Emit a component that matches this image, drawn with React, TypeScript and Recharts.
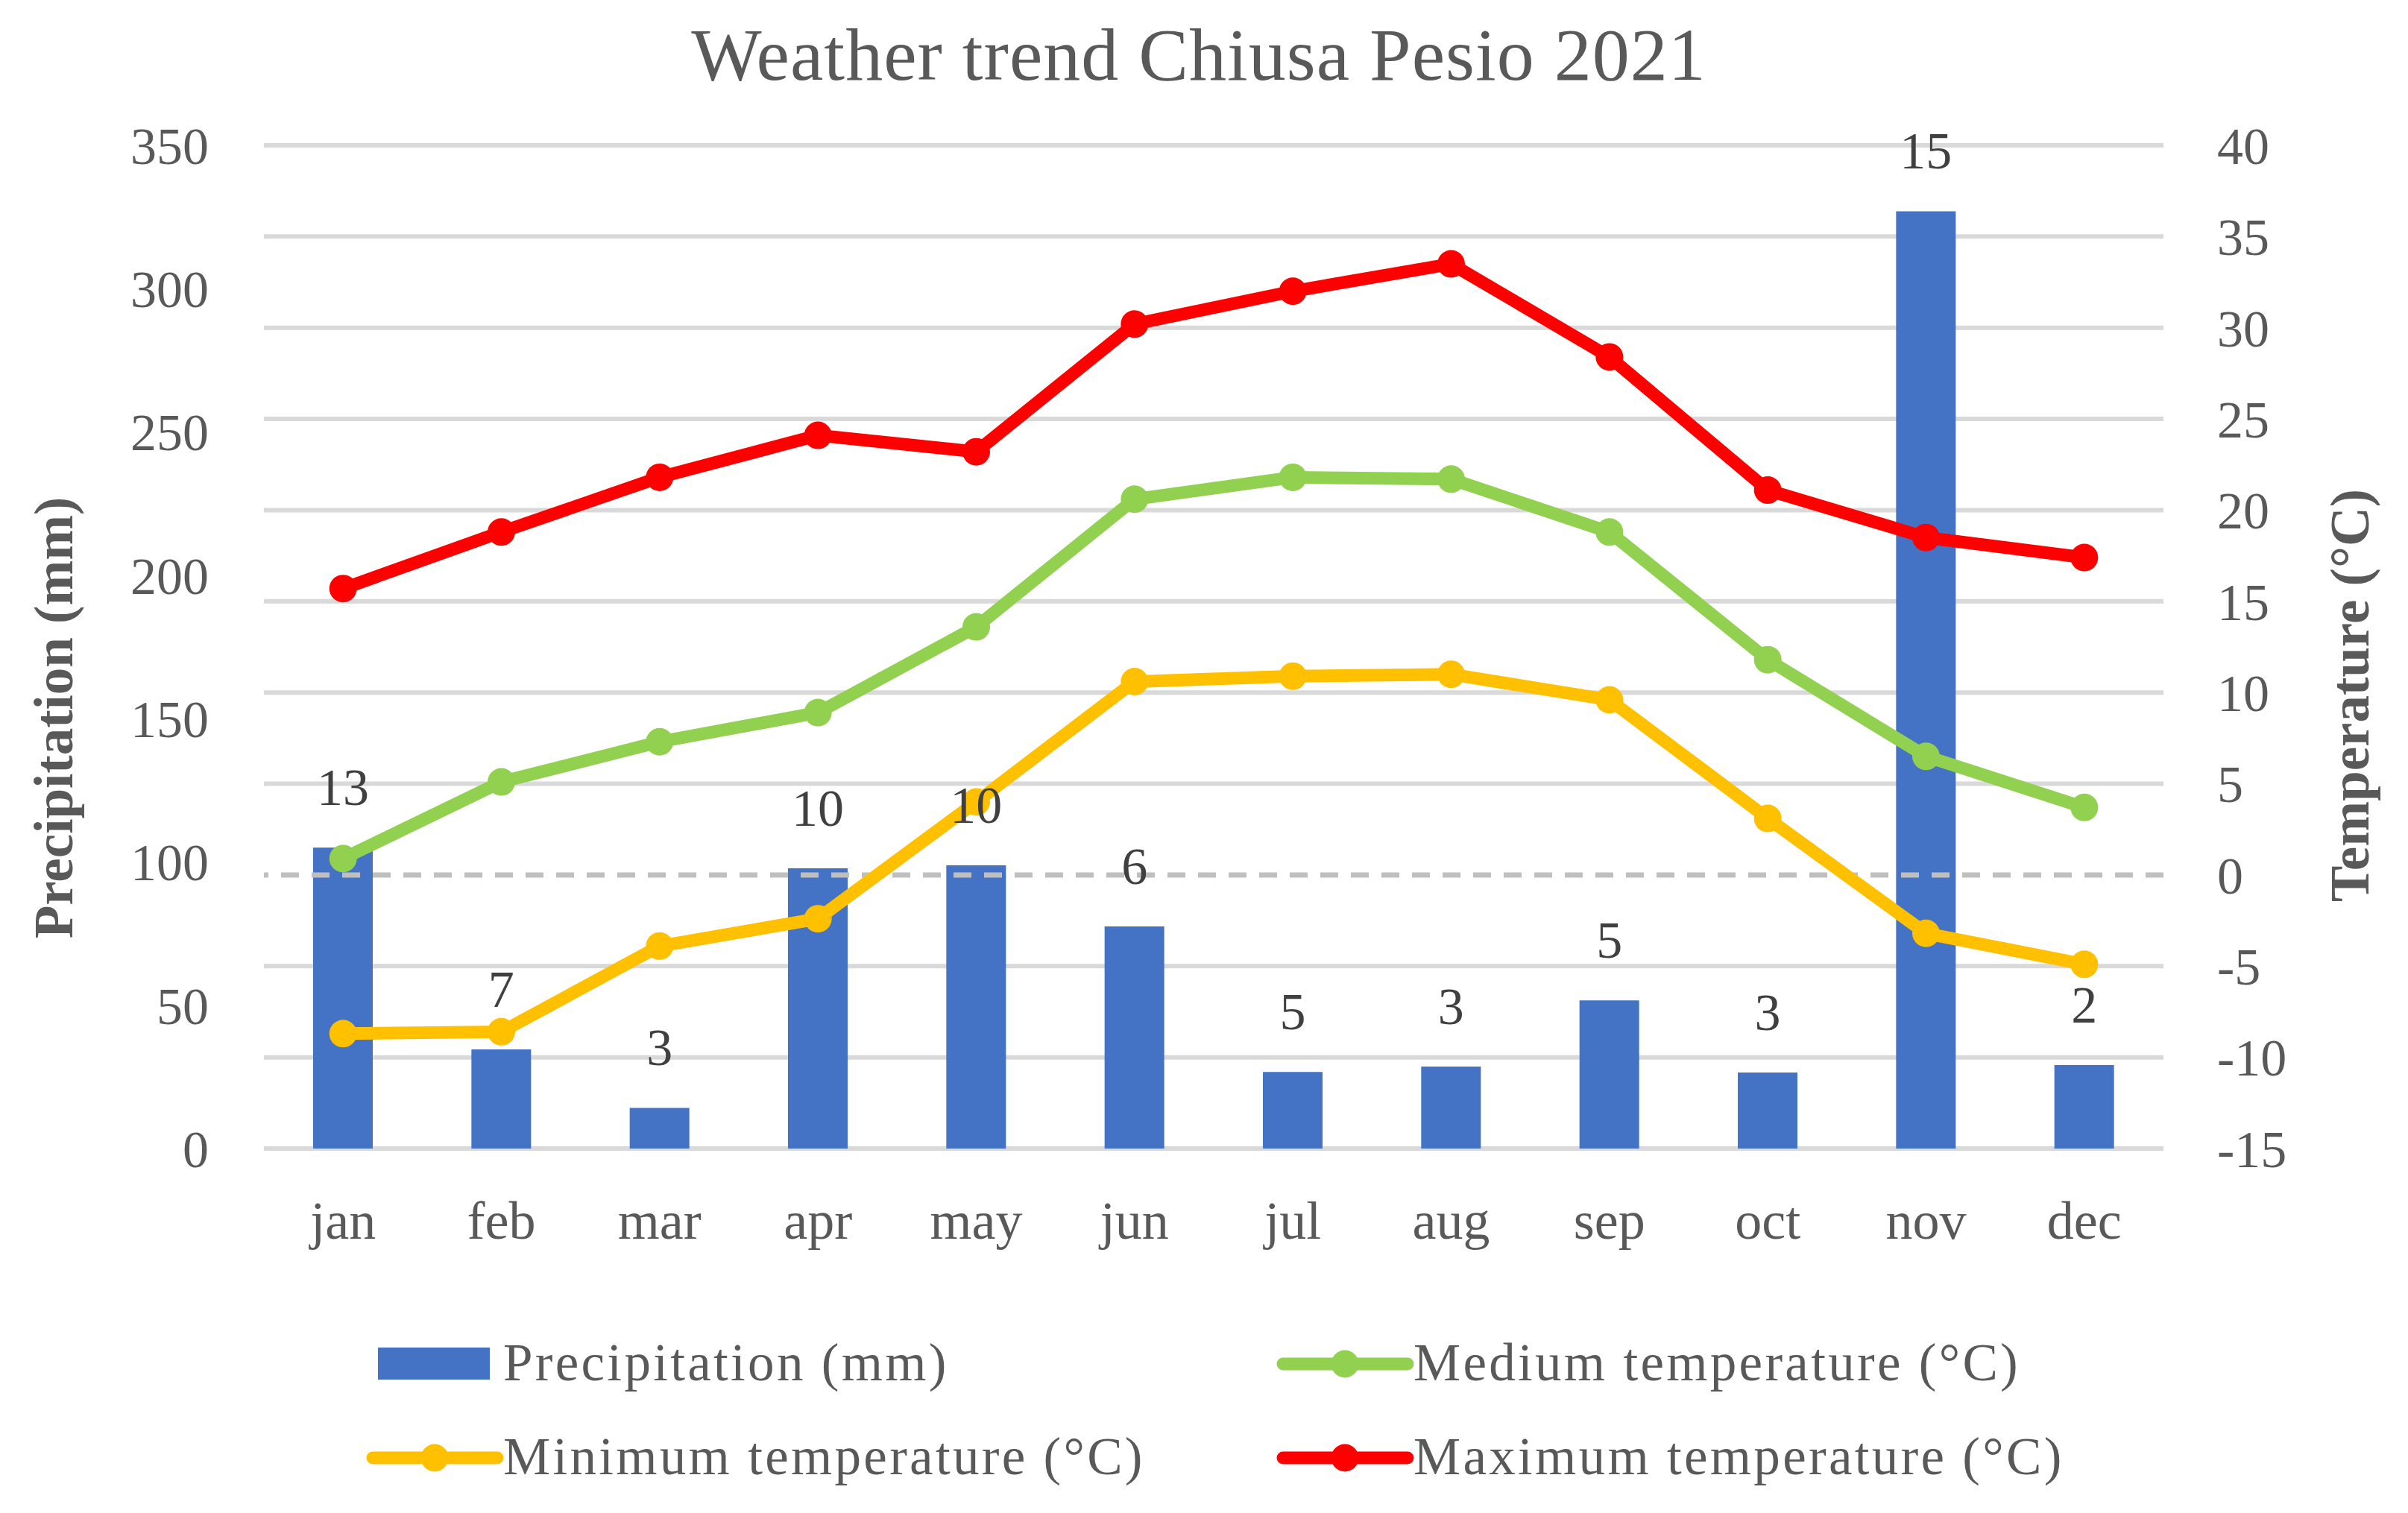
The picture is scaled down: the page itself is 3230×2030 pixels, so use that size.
import React from "react";
import {
  ComposedChart, Bar, Line, XAxis, YAxis, CartesianGrid, ReferenceLine, Legend, LabelList,
} from "recharts";

const months = ["jan", "feb", "mar", "apr", "may", "jun", "jul", "aug", "sep", "oct", "nov", "dec"];
const precipitation = [105, 34.6, 14.2, 97.8, 98.8, 77.5, 26.7, 28.6, 51.7, 26.5, 327, 29.1];
const rainyDays = [13, 7, 3, 10, 10, 6, 5, 3, 5, 3, 15, 2];
const tempMedium = [0.9, 5.1, 7.3, 8.9, 13.6, 20.6, 21.8, 21.7, 18.8, 11.8, 6.5, 3.7];
const tempMin = [-8.7, -8.6, -3.9, -2.4, 4.0, 10.6, 10.9, 11.0, 9.6, 3.1, -3.2, -4.9];
const tempMax = [15.7, 18.8, 21.8, 24.1, 23.2, 30.2, 32.0, 33.5, 28.4, 21.1, 18.5, 17.4];

const precipTicks = [0, 50, 100, 150, 200, 250, 300, 350];
const tempTicks = [-15, -10, -5, 0, 5, 10, 15, 20, 25, 30, 35, 40];

const data = months.map((month, i) => ({
  month,
  precipitation: precipitation[i],
  rainyDays: rainyDays[i],
  medium: tempMedium[i],
  min: tempMin[i],
  max: tempMax[i],
}));

const FONT = '"Liberation Serif", "Times New Roman", serif';
const TEXT = "#595959";
const BLUE = "#4472C4";
const GREEN = "#92D050";
const YELLOW = "#FFC000";
const RED = "#FF0000";

const tickStyle = { fontSize: 70, fill: TEXT, fontFamily: FONT };

const legendItems = [
  { label: "Precipitation (mm)", color: BLUE, kind: "bar" },
  { label: "Medium temperature (°C)", color: GREEN, kind: "line" },
  { label: "Minimum temperature (°C)", color: YELLOW, kind: "line" },
  { label: "Maximum temperature (°C)", color: RED, kind: "line" },
];

function ChartLegend() {
  const cols = [500, 1721];
  const rows = [50, 176];
  return (
    <svg width={3230} height={250} style={{ display: "block" }}>
      {legendItems.map((it, i) => {
        const x = cols[i % 2];
        const cy = rows[Math.floor(i / 2)];
        return (
          <g key={it.label}>
            {it.kind === "bar" ? (
              <rect x={x + 7} y={cy - 22} width={150} height={43} fill={it.color} />
            ) : (
              <g>
                <line x1={x} x2={x + 167} y1={cy} y2={cy} stroke={it.color} strokeWidth={17} strokeLinecap="round" />
                <circle cx={x + 83} cy={cy} r={18.5} fill={it.color} />
              </g>
            )}
            <text x={x + 175} y={cy + 22} fontSize={71} letterSpacing={3.3} fill={TEXT} fontFamily={FONT}>
              {it.label}
            </text>
          </g>
        );
      })}
    </svg>
  );
}

const axisTitle = (x: number, y: number, text: string) => () => (
  <text
    x={x}
    y={y}
    transform={`rotate(-90, ${x}, ${y})`}
    textAnchor="middle"
    fontSize={73}
    fontWeight="bold"
    fill={TEXT}
    fontFamily={FONT}
  >
    {text}
  </text>
);

export default function App() {
  return (
    <div style={{ position: "absolute", left: 0, top: 0, background: "#fff" }}>
      <ComposedChart
        width={3230}
        height={2030}
        data={data}
        margin={{ top: 195, right: 0, bottom: 0, left: 0 }}
        style={{ fontFamily: FONT }}
      >
        <text x={1608} y={107} textAnchor="middle" fontSize={100} letterSpacing={1} fill={TEXT} fontFamily={FONT}>
          Weather trend Chiusa Pesio 2021
        </text>
        <CartesianGrid
          yAxisId="right"
          vertical={false}
          horizontalValues={tempTicks.filter((t) => t !== 0)}
          stroke="#D9D9D9"
          strokeWidth={6}
        />
        <XAxis
          dataKey="month"
          axisLine={false}
          tickLine={false}
          tick={{ ...tickStyle, fontSize: 72 }}
          tickMargin={64}
          height={239}
          interval={0}
        />
        <YAxis
          yAxisId="left"
          domain={[0, 350]}
          ticks={precipTicks}
          axisLine={false}
          tickLine={false}
          tick={tickStyle}
          tickMargin={68}
          width={354}
          label={{ content: axisTitle(97, 963, "Precipitation (mm)") }}
        />
        <YAxis
          yAxisId="right"
          orientation="right"
          domain={[-15, 40]}
          ticks={tempTicks}
          axisLine={false}
          tickLine={false}
          tick={tickStyle}
          tickMargin={66}
          width={328}
          label={{ content: axisTitle(3177, 933, "Temperature (°C)") }}
        />
        <Bar yAxisId="left" dataKey="precipitation" fill={BLUE} barSize={80} isAnimationActive={false}>
          <LabelList dataKey="rainyDays" position="top" offset={57} fill="#404040" fontSize={70} fontFamily={FONT} />
        </Bar>
        <ReferenceLine yAxisId="right" y={0} stroke="#BFBFBF" strokeWidth={7} strokeDasharray="24 17" />
        <Line
          yAxisId="right"
          type="linear"
          dataKey="medium"
          stroke={GREEN}
          strokeWidth={17}
          dot={{ r: 18.5, fill: GREEN, stroke: GREEN, strokeWidth: 0 }}
          activeDot={false}
          isAnimationActive={false}
        />
        <Line
          yAxisId="right"
          type="linear"
          dataKey="min"
          stroke={YELLOW}
          strokeWidth={17}
          dot={{ r: 18.5, fill: YELLOW, stroke: YELLOW, strokeWidth: 0 }}
          activeDot={false}
          isAnimationActive={false}
        />
        <Line
          yAxisId="right"
          type="linear"
          dataKey="max"
          stroke={RED}
          strokeWidth={17}
          dot={{ r: 18.5, fill: RED, stroke: RED, strokeWidth: 0 }}
          activeDot={false}
          isAnimationActive={false}
        />
        <Legend
          verticalAlign="bottom"
          content={() => <ChartLegend />}
          wrapperStyle={{ left: 0, bottom: 0, width: 3230, height: 250 }}
        />
      </ComposedChart>
    </div>
  );
}
